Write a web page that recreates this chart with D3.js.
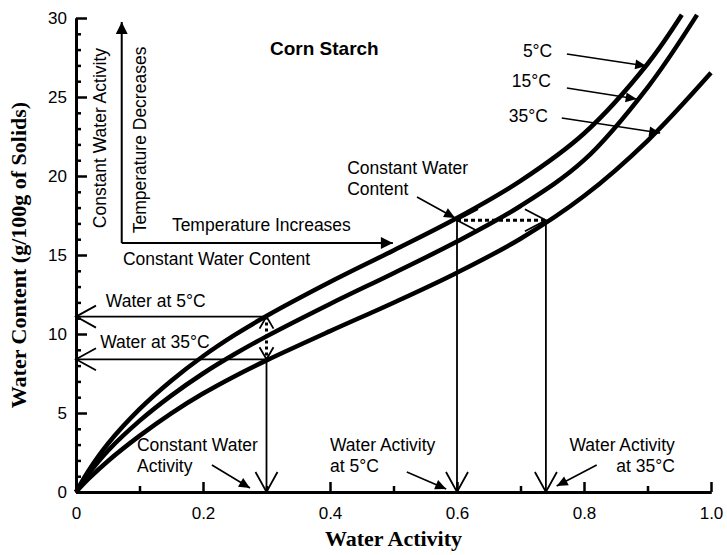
<!DOCTYPE html>
<html>
<head>
<meta charset="utf-8">
<script src="https://cdn.jsdelivr.net/npm/d3@7"></script>
<style>
body { margin: 0; background: #fff; }
svg { display: block; }
</style>
</head>
<body>
<svg id="chart" width="727" height="555"></svg>
<script>
// tick values and labels
const xTicks = [0, 0.2, 0.4, 0.6, 0.8, 1.0];
const xTickLabels = ['0', '0.2', '0.4', '0.6', '0.8', '1.0'];
const xMinorTicks = [0.1, 0.3, 0.5, 0.7, 0.9];
const yTicks = [0, 5, 10, 15, 20, 25, 30];
const yTickLabels = ['0', '5', '10', '15', '20', '25', '30'];
const yMinorTicks = d3.range(1, 30).filter(v => v % 5 !== 0);

// isotherms
const seriesNames = ['5°C', '15°C', '35°C'];
const aw5 = [0, 0.02, 0.05, 0.1, 0.15, 0.2, 0.25, 0.3, 0.4, 0.5, 0.6, 0.7, 0.8, 0.9, 0.954];
const wc5 = [0, 1.36, 3.04, 5.24, 7.04, 8.59, 9.94, 11.14, 13.29, 15.29, 17.34, 19.69, 22.69, 27.09, 30.2];
const aw15 = [0, 0.02, 0.05, 0.1, 0.15, 0.2, 0.25, 0.3, 0.4, 0.5, 0.6, 0.7, 0.8, 0.9, 0.978];
const wc15 = [0, 1.16, 2.6, 4.5, 6.1, 7.5, 8.73, 9.85, 11.9, 13.85, 15.85, 18.1, 21.0, 25.6, 30.2];
const aw35 = [0, 0.02, 0.05, 0.1, 0.15, 0.2, 0.25, 0.3, 0.4, 0.5, 0.6, 0.7, 0.8, 0.9, 1.0];
const wc35 = [0, 0.84, 1.95, 3.55, 4.98, 6.23, 7.33, 8.33, 10.18, 11.98, 13.88, 16.03, 18.73, 22.23, 26.53];

// reference readings used by the guide arrows
const constActivity = 0.3;
const waterAt5 = 11.1;
const waterAt35 = 8.4;
const constWater = 17.2;
const activityAt5 = 0.6;
const activityAt35 = 0.74;

const svg = d3.select('#chart');
const margin = { top: 18, left: 76, right: 16, bottom: 63 };
const width = 727, height = 555;
const x = d3.scaleLinear().domain([0, 1]).range([margin.left, width - margin.right]);
const y = d3.scaleLinear().domain([0, 30]).range([height - margin.bottom, margin.top]);

const sans = 'Arial, "Liberation Sans", sans-serif';
const serif = '"Times New Roman", "Liberation Serif", serif';

// axes
const xAxis = svg.append('g').attr('transform', `translate(0,${y(0)})`)
    .call(d3.axisBottom(x).tickValues(xTicks).tickFormat((d, i) => xTickLabels[i])
        .tickSizeInner(-10).tickSizeOuter(0).tickPadding(15));
const xMinor = svg.append('g').attr('transform', `translate(0,${y(0)})`)
    .call(d3.axisBottom(x).tickValues(xMinorTicks).tickFormat('').tickSizeInner(-6).tickSizeOuter(0));
const yAxis = svg.append('g').attr('transform', `translate(${x(0)},0)`)
    .call(d3.axisLeft(y).tickValues(yTicks).tickFormat((d, i) => yTickLabels[i])
        .tickSizeInner(-11).tickSizeOuter(0).tickPadding(9));
const yMinor = svg.append('g').attr('transform', `translate(${x(0)},0)`)
    .call(d3.axisLeft(y).tickValues(yMinorTicks).tickFormat('').tickSizeInner(-5).tickSizeOuter(0));

[xAxis, xMinor, yAxis, yMinor].forEach(g => {
    g.selectAll('path.domain').attr('stroke', '#000').attr('stroke-width', 3);
    g.selectAll('.tick line').attr('stroke', '#000').attr('stroke-width', 2.5);
    g.selectAll('.tick text').attr('fill', '#000').style('font-family', sans).style('font-size', '17px');
});

svg.append('text')
    .attr('x', (x(0) + x(1)) / 2).attr('y', 546)
    .attr('text-anchor', 'middle')
    .style('font-family', serif).style('font-weight', 'bold').style('font-size', '22px')
    .text('Water Activity');
svg.append('text')
    .attr('transform', `translate(26,${(y(0) + y(30)) / 2}) rotate(-90)`)
    .attr('text-anchor', 'middle')
    .style('font-family', serif).style('font-weight', 'bold').style('font-size', '22px')
    .text('Water Content (g/100g of Solids)');

// arrow helpers
function openHead(g, x1, y1, x2, y2, len, half) {
    const ang = Math.atan2(y2 - y1, x2 - x1);
    const bx = x2 - len * Math.cos(ang), by = y2 - len * Math.sin(ang);
    const px = -Math.sin(ang), py = Math.cos(ang);
    g.append('polyline')
        .attr('points', `${bx + half * px},${by + half * py} ${x2},${y2} ${bx - half * px},${by - half * py}`)
        .attr('fill', 'none').attr('stroke', '#000').attr('stroke-width', 1.8);
}
function filledHead(g, x1, y1, x2, y2, len, half) {
    const ang = Math.atan2(y2 - y1, x2 - x1);
    const bx = x2 - len * Math.cos(ang), by = y2 - len * Math.sin(ang);
    const px = -Math.sin(ang), py = Math.cos(ang);
    g.append('polygon')
        .attr('points', `${bx + half * px},${by + half * py} ${x2},${y2} ${bx - half * px},${by - half * py}`)
        .attr('fill', '#000');
}
function arrow(g, p1, p2, opt) {
    const x1 = x(p1[0]), y1 = y(p1[1]), x2 = x(p2[0]), y2 = y(p2[1]);
    const ln = g.append('line').attr('x1', x1).attr('y1', y1).attr('x2', x2).attr('y2', y2)
        .attr('stroke', '#000').attr('stroke-width', opt.width || 1.8);
    if (opt.dash) ln.attr('stroke-dasharray', opt.dash);
    if (opt.head === 'open') openHead(g, x1, y1, x2, y2, opt.len, opt.half);
    if (opt.head === 'filled') filledHead(g, x1, y1, x2, y2, opt.len, opt.half);
    if (opt.both) openHead(g, x2, y2, x1, y1, opt.len, opt.half);
}

const ann = svg.append('g');

// guide lines to the axes
arrow(ann, [constActivity, waterAt5], [0, waterAt5], { head: 'open', len: 20, half: 11 });
arrow(ann, [constActivity, waterAt35], [0, waterAt35], { head: 'open', len: 20, half: 11 });
arrow(ann, [constActivity, waterAt35], [constActivity, 0], { head: 'open', len: 20, half: 11 });
arrow(ann, [activityAt5, constWater], [activityAt5, 0], { head: 'open', len: 20, half: 11 });
arrow(ann, [activityAt35, constWater], [activityAt35, 0], { head: 'open', len: 20, half: 11 });

// dotted double arrows
arrow(ann, [constActivity, waterAt5], [constActivity, waterAt35],
    { head: 'open', both: true, len: 12, half: 7, dash: '3,3', width: 3 });
arrow(ann, [activityAt5, constWater], [activityAt35, constWater],
    { head: 'open', both: true, len: 21, half: 11, dash: '4,3', width: 3 });

// isotherm curves
const line = d3.line().x(d => x(d[0])).y(d => y(d[1])).curve(d3.curveCatmullRom.alpha(0.5));
const curves = [d3.zip(aw5, wc5), d3.zip(aw15, wc15), d3.zip(aw35, wc35)];
svg.append('g').selectAll('path').data(curves).join('path')
    .attr('d', line)
    .attr('fill', 'none').attr('stroke', '#000').attr('stroke-width', 4.5);

// inset axes (temperature direction)
arrow(ann, [0.072, 15.76], [0.072, 29.75], { head: 'filled', len: 12, half: 6, width: 2 });
arrow(ann, [0.072, 15.76], [0.499, 15.76], { head: 'filled', len: 12, half: 6, width: 2 });

// pointer arrows
const pointers = [
    [[0.773, 27.72], [0.898, 26.96]],
    [[0.773, 25.57], [0.883, 24.87]],
    [[0.765, 23.67], [0.920, 22.72]],
    [[0.537, 18.67], [0.597, 17.34]],
    [[0.214, 1.71], [0.274, 0.25]],
    [[0.521, 1.27], [0.583, 0.19]],
    [[0.820, 1.71], [0.757, 0.38]]
];
pointers.forEach(p => arrow(ann, p[0], p[1], { head: 'filled', len: 11, half: 5, width: 1.6 }));

// labels
const labels = [
    { t: 'Corn Starch', a: 0.3055, w: 27.66, bold: true, size: 19 },
    { t: 'Temperature Increases', a: 0.151, w: 16.52 },
    { t: 'Constant Water Content', a: 0.074, w: 14.37 },
    { t: 'Water at 5°C', a: 0.047, w: 11.71 },
    { t: 'Water at 35°C', a: 0.038, w: 9.11 },
    { t: 'Constant Water', a: 0.427, w: 20.13 },
    { t: 'Content', a: 0.427, w: 18.80 },
    { t: 'Constant Water', a: 0.096, w: 2.59 },
    { t: 'Activity', a: 0.096, w: 1.27 },
    { t: 'Water Activity', a: 0.4, w: 2.59 },
    { t: 'at 5°C', a: 0.4, w: 1.27 },
    { t: 'Water Activity', a: 0.943, w: 2.59, anchor: 'end' },
    { t: 'at 35°C', a: 0.943, w: 1.27, anchor: 'end' },
    { t: seriesNames[0], a: 0.75, w: 27.53, anchor: 'end' },
    { t: seriesNames[1], a: 0.748, w: 25.63, anchor: 'end' },
    { t: seriesNames[2], a: 0.743, w: 23.42, anchor: 'end' }
];
svg.append('g').selectAll('text').data(labels).join('text')
    .attr('x', d => x(d.a)).attr('y', d => y(d.w))
    .attr('text-anchor', d => d.anchor || 'start')
    .style('font-family', sans)
    .style('font-weight', d => d.bold ? 'bold' : 'normal')
    .style('font-size', d => (d.size || 17.5) + 'px')
    .text(d => d.t);

const rotated = [
    { t: 'Constant Water Activity', a: 0.047, w: 22.4 },
    { t: 'Temperature Decreases', a: 0.110, w: 22.28 }
];
svg.append('g').selectAll('text').data(rotated).join('text')
    .attr('transform', d => `translate(${x(d.a)},${y(d.w)}) rotate(-90)`)
    .attr('text-anchor', 'middle')
    .style('font-family', sans).style('font-size', '17.5px')
    .text(d => d.t);
</script>
</body>
</html>
